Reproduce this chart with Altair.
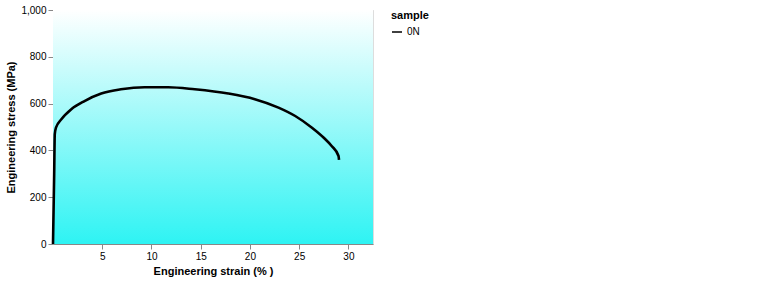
import altair as alt
import pandas as pd

strain_0n = [0, 0.12, 0.18, 0.3, 0.85, 1.86, 3.2, 4.9, 6.9, 9.3, 11.7, 14.4, 17.8,
             20.5, 22.9, 24.6, 26.3, 27.5, 28.3, 29.0, 29.05]
stress_0n = [0, 300, 470, 497, 533, 576, 611, 643, 661, 670, 670, 661, 643,
             619, 583, 547, 497, 454, 419, 376, 359]
samples = ["0N"]
sample_colors = ["#000000"]
a_x_labels = [5, 10, 15, 20, 25, 30]
a_y_labels = [0, 200, 400, 600, 800, 1000]

W, H = 320, 234
FONT = "Liberation Sans"

background = alt.Gradient(
    gradient="linear",
    stops=[alt.GradientStop(color="#ffffff", offset=0),
           alt.GradientStop(color="#2ef3f3", offset=1)],
    x1=0, x2=0, y1=0, y2=1,
)
one_row = pd.DataFrame({"v": [0]})

curves = pd.DataFrame({"strain": strain_0n, "stress": stress_0n, "sample": "0N"})

X_A = alt.X("strain:Q", scale=alt.Scale(domain=[0, 32.5], nice=False, zero=False),
            axis=alt.Axis(values=a_x_labels, title="Engineering strain (% )"))
Y_A = alt.Y("stress:Q", scale=alt.Scale(domain=[0, 1000], nice=False),
            axis=alt.Axis(values=a_y_labels, title="Engineering stress (MPa)"))

backdrop = alt.Chart(one_row).mark_rect(fill=background).encode(
    x=alt.value(0), x2=alt.value(W), y=alt.value(0), y2=alt.value(H))

lines_a = alt.Chart(curves).mark_line(strokeWidth=2.6, interpolate="monotone").encode(
    x=X_A, y=Y_A,
    color=alt.Color("sample:N", scale=alt.Scale(domain=samples, range=sample_colors)),
)

chart = alt.layer(backdrop, lines_a).properties(width=W, height=H)

chart.save("out.html", embed_options={"renderer": "svg", "actions": False})
